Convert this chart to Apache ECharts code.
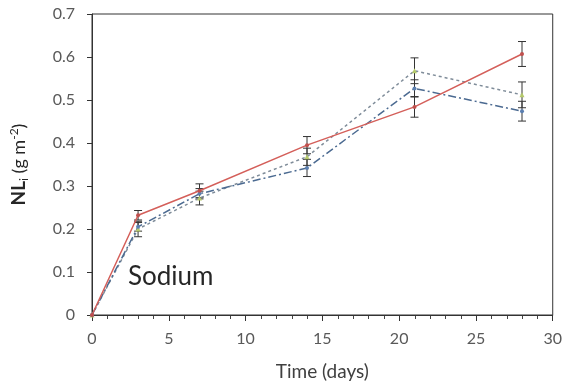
<!DOCTYPE html>
<html>
<head>
<meta charset="utf-8">
<script src="https://cdn.jsdelivr.net/npm/echarts@6/dist/echarts.min.js"></script>
<style>
  html, body { margin: 0; padding: 0; background: #fff; }
  #chart { width: 565px; height: 387px; }
</style>
</head>
<body>
<div id="chart"></div>
<script>
// Sampling days
const days = [0, 3, 7, 14, 21, 28];

// Series values (g m^-2) and their standard errors
const seriesRed = [0, 0.232, 0.289, 0.395, 0.484, 0.607];
const errRed = [0, 0.011, 0.016, 0.020, 0.024, 0.029];

const seriesGreen = [0, 0.200, 0.272, 0.368, 0.568, 0.512];
const errGreen = [0, 0.018, 0.016, 0.020, 0.030, 0.030];

const seriesBlue = [0, 0.205, 0.282, 0.342, 0.527, 0.474];
const errBlue = [0, 0.010, 0.012, 0.020, 0.020, 0.023];

// Axis tick values
const xTicks = [0, 5, 10, 15, 20, 25, 30];
const yTicks = [0, 0.1, 0.2, 0.3, 0.4, 0.5, 0.6, 0.7];

const FONT = 'Lato, "Open Sans", sans-serif';

const xMin = xTicks[0];
const xMax = xTicks[xTicks.length - 1];

// one small tick per day between the labelled ticks
const minorDays = [];
for (let d = xMin; d <= xMax; d++) {
  if (d % 5 !== 0) minorDays.push([d, yTicks[0]]);
}

function pairs(vals) {
  return days.map((d, i) => [d, vals[i]]);
}
function errData(vals, errs) {
  return days.map((d, i) => [d, vals[i] - errs[i], vals[i] + errs[i]]);
}

function errorBars(vals, errs) {
  return {
    type: 'custom',
    z: 1,
    silent: true,
    data: errData(vals, errs),
    renderItem: function (params, api) {
      const x = api.value(0);
      if (api.value(2) - api.value(1) <= 0) return null;
      const lo = api.coord([x, api.value(1)]);
      const hi = api.coord([x, api.value(2)]);
      const w = 4;
      const st = { stroke: '#333', lineWidth: 1 };
      return {
        type: 'group',
        children: [
          { type: 'line', shape: { x1: lo[0], y1: lo[1], x2: hi[0], y2: hi[1] }, style: st },
          { type: 'line', shape: { x1: lo[0] - w, y1: lo[1], x2: lo[0] + w, y2: lo[1] }, style: st },
          { type: 'line', shape: { x1: hi[0] - w, y1: hi[1], x2: hi[0] + w, y2: hi[1] }, style: st }
        ]
      };
    }
  };
}

const chart = echarts.init(document.getElementById('chart'));
chart.setOption({
  animation: false,
  backgroundColor: '#fff',
  grid: {
    left: 91, right: 10, top: 14, bottom: 72,
    show: true, borderColor: '#333', borderWidth: 1
  },
  xAxis: {
    type: 'value',
    min: xMin, max: xMax, interval: 5,
    name: 'Time (days)',
    nameLocation: 'middle',
    nameGap: 47,
    nameTextStyle: { fontFamily: FONT, fontSize: 19, color: '#404040' },
    axisLine: { show: true, onZero: false, lineStyle: { color: '#333', width: 1 } },
    axisTick: { show: true, inside: false, length: 6, lineStyle: { color: '#333' } },
    splitLine: { show: false },
    axisLabel: { fontFamily: FONT, fontSize: 16, color: '#595959', margin: 16 }
  },
  yAxis: {
    type: 'value',
    min: yTicks[0], max: yTicks[yTicks.length - 1], interval: 0.1,
    name: '{b|NL}{sub|i}{n| (g m}{sup|-2}{n|)}',
    nameLocation: 'middle',
    nameRotate: 90,
    nameGap: 62,
    nameTextStyle: {
      fontFamily: FONT,
      color: '#262626',
      rich: {
        b: { fontFamily: FONT, fontSize: 19, fontWeight: 'bold', color: '#262626', lineHeight: 22 },
        sub: { fontFamily: FONT, fontSize: 12, color: '#262626', verticalAlign: 'bottom', lineHeight: 14, padding: [7, 0, 0, 0] },
        n: { fontFamily: FONT, fontSize: 18, color: '#262626', lineHeight: 22 },
        sup: { fontFamily: FONT, fontSize: 12, color: '#262626', verticalAlign: 'top', lineHeight: 14, padding: [0, 0, 7, 0] }
      }
    },
    axisLine: { show: true, onZero: false, lineStyle: { color: '#333', width: 1 } },
    axisTick: { show: true, inside: false, length: 5, lineStyle: { color: '#333' } },
    splitLine: { show: false },
    axisLabel: {
      fontFamily: FONT, fontSize: 16, color: '#595959', margin: 17,
      formatter: v => (Math.round(v * 10) / 10).toString()
    }
  },
  graphic: [{
    type: 'text',
    left: 128, top: 264,
    style: { text: 'Sodium', fontFamily: FONT, fontSize: 26, fill: '#262626' }
  }],
  series: [
    {
      // minor x-axis ticks
      type: 'custom',
      silent: true,
      clip: false,
      z: 0,
      data: minorDays,
      renderItem: function (params, api) {
        const p = api.coord([api.value(0), api.value(1)]);
        const x = Math.round(p[0]) + 0.5;
        return {
          type: 'line',
          shape: { x1: x, y1: p[1], x2: x, y2: p[1] + 4 },
          style: { stroke: '#444', lineWidth: 1 }
        };
      }
    },
    errorBars(seriesRed, errRed),
    errorBars(seriesGreen, errGreen),
    errorBars(seriesBlue, errBlue),
    {
      type: 'line', z: 3,
      data: pairs(seriesGreen),
      symbol: 'triangle', symbolSize: 5,
      itemStyle: { color: '#b5c96a' },
      lineStyle: { color: '#7f8c99', width: 1.5, type: [3, 3] }
    },
    {
      type: 'line', z: 3,
      data: pairs(seriesBlue),
      symbol: 'circle', symbolSize: 4,
      itemStyle: { color: '#5b7fb0' },
      lineStyle: { color: '#4b6a91', width: 1.5, type: [8, 3, 2, 3] }
    },
    {
      type: 'line', z: 4,
      data: pairs(seriesRed),
      symbol: 'circle', symbolSize: 4,
      itemStyle: { color: '#c0504d' },
      lineStyle: { color: '#d45f5a', width: 1.5 }
    }
  ]
});
</script>
</body>
</html>
